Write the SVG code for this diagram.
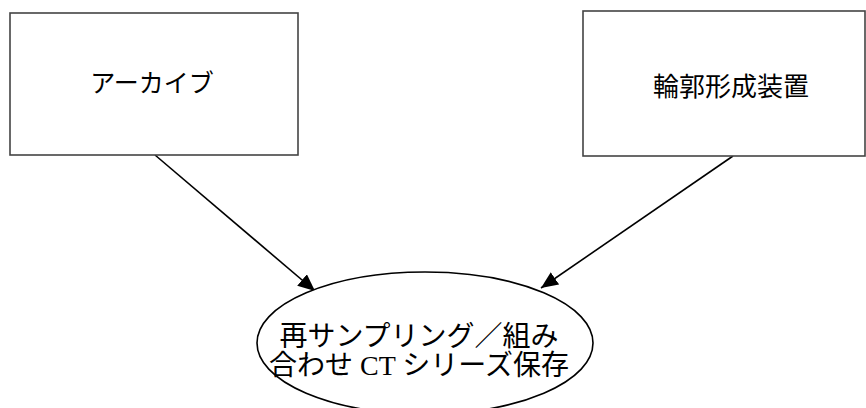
<svg xmlns="http://www.w3.org/2000/svg" width="866" height="408" viewBox="0 0 866 408">
<defs>
<style>
.box{fill:#fff;stroke:#444;stroke-width:1.6}
.ell{fill:#fff;stroke:#000;stroke-width:1.6}
.edge{stroke:#000;stroke-width:1.6;fill:none}
text{font-family:"Liberation Serif","Noto Sans CJK JP",serif;fill:#000;text-anchor:middle}
</style>
<marker id="arr" markerUnits="userSpaceOnUse" markerWidth="19" markerHeight="15" refX="17" refY="7.5" orient="auto">
<path d="M0,0 L17,7.5 L0,15 z" fill="#000"/>
</marker>
</defs>
<rect width="866" height="408" fill="#fff"/>
<g id="connectors">
<line class="edge" x1="155" y1="155" x2="315" y2="291" marker-end="url(#arr)"/>
<line class="edge" x1="733" y1="156" x2="541" y2="288" marker-end="url(#arr)"/>
</g>
<g id="archive">
<rect class="box" x="10" y="13" width="288" height="142"/>
<text x="152" y="92" font-size="25">アーカイブ</text>
</g>
<g id="contour">
<rect class="box" x="583" y="11" width="282" height="145"/>
<text x="731" y="96" font-size="26">輪郭形成装置</text>
</g>
<g id="resample">
<ellipse class="ell" cx="425" cy="343" rx="168" ry="71"/>
<text x="419" y="346" font-size="28">再サンプリング／組み</text>
<text x="419" y="375" font-size="28">合わせ CT シリーズ保存</text>
</g>
</svg>
